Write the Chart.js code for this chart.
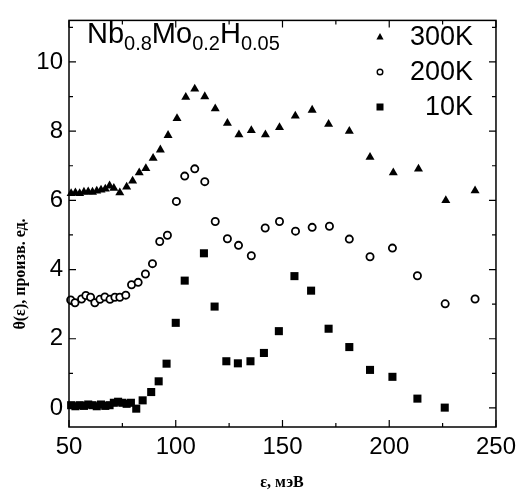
<!DOCTYPE html>
<html>
<head>
<meta charset="utf-8">
<script src="https://cdn.jsdelivr.net/npm/chart.js@4.4.0/dist/chart.umd.min.js"></script>
<style>
  body { margin: 0; background: #fff; }
  #wrap { width: 522px; height: 495px; position: relative; }
</style>
</head>
<body>
<div id="wrap"><canvas id="thetaChart"></canvas></div>
<script>
// energy (meV) and theta values
const seriesNames = ['300K', '200K', '10K'];

const x300 = [51, 53, 55, 57, 59, 61, 63, 65, 67, 69, 71, 73.8, 77, 79.8, 82.9, 86, 89.4, 92.8, 96.4, 100.6,
              104.7, 108.9, 113.6, 118.5, 124.2, 129.6, 135.4, 142, 148.6, 156, 163.9, 171.6, 181.3, 191,
              201.9, 213.7, 226.5, 240.2];
const y300 = [6.2, 6.22, 6.2, 6.24, 6.25, 6.24, 6.27, 6.3, 6.33, 6.42, 6.35, 6.22, 6.39, 6.56, 6.8, 6.92, 7.22,
              7.46, 7.88, 8.37, 8.98, 9.22, 9.0, 8.65, 8.23, 7.9, 8.02, 7.9, 8.11, 8.44, 8.61, 8.2, 8.0, 7.25,
              6.8, 6.91, 6.0, 6.28];

const x200 = [50.8, 52.8, 55.9, 57.9, 60.1, 62.1, 64.5, 66.8, 69.2, 71.5, 73.8, 76.6, 79.3, 82.4, 85.8, 89.1,
              92.5, 96.1, 100.3, 104.2, 108.9, 113.6, 118.5, 124.2, 129.4, 135.4, 141.9, 148.6, 156.1, 163.9,
              172, 181.3, 191, 201.5, 213.2, 226.2, 240.2];
const y200 = [3.12, 3.04, 3.15, 3.25, 3.2, 3.04, 3.14, 3.21, 3.14, 3.2, 3.2, 3.26, 3.56, 3.63, 3.87, 4.17, 4.81,
              4.99, 5.97, 6.7, 6.91, 6.54, 5.39, 4.89, 4.7, 4.4, 5.2, 5.39, 5.11, 5.22, 5.25, 4.88, 4.37, 4.62,
              3.82, 3.01, 3.15];

const x10 = [51, 53, 55, 57, 59, 61, 63, 65, 67, 69, 71, 73, 75, 77, 79, 81.5, 84.5, 88.5, 92, 95.7, 100, 104.2,
             113.2, 118.2, 123.7, 129.1, 135, 141.3, 148.3, 155.6, 163.4, 171.6, 181.3, 191, 201.5, 213.2, 226];
const y10 = [0.08, 0.05, 0.08, 0.06, 0.1, 0.08, 0.05, 0.1, 0.06, 0.08, 0.15, 0.18, 0.15, 0.12, 0.15, -0.02, 0.22,
             0.46, 0.77, 1.28, 2.46, 3.68, 4.47, 2.93, 1.35, 1.29, 1.35, 1.59, 2.22, 3.81, 3.39, 2.29, 1.76, 1.1,
             0.9, 0.27, 0.01];

const xTicks = [50, 100, 150, 200, 250];
const yTicks = [0, 2, 4, 6, 8, 10];
const xMinor = [75, 125, 175, 225];
const yMinor = [1, 3, 5, 7, 9, 11];

function pts(xs, ys) {
    return xs.map((x, i) => ({ x: x, y: ys[i] }));
}

// frame, inward ticks on all four sides, formula, legend and axis titles
const decorPlugin = {
    id: 'decor',
    afterDraw(chart) {
        const ctx = chart.ctx;
        const a = chart.chartArea;
        const xs = chart.scales.x, ys = chart.scales.y;
        ctx.save();
        ctx.strokeStyle = '#000';
        ctx.lineWidth = 1.5;
        ctx.strokeRect(a.left, a.top, a.right - a.left, a.bottom - a.top);

        ctx.lineWidth = 1.2;
        ctx.beginPath();
        xTicks.concat(xMinor).forEach(v => {
            const len = xTicks.includes(v) ? 7 : 4;
            const px = xs.getPixelForValue(v);
            ctx.moveTo(px, a.bottom); ctx.lineTo(px, a.bottom - len);
            ctx.moveTo(px, a.top); ctx.lineTo(px, a.top + len);
        });
        yTicks.concat(yMinor).forEach(v => {
            const len = yTicks.includes(v) ? 7 : 4;
            const py = ys.getPixelForValue(v);
            ctx.moveTo(a.left, py); ctx.lineTo(a.left + len, py);
            ctx.moveTo(a.right, py); ctx.lineTo(a.right - len, py);
        });
        ctx.stroke();

        // formula with subscripts
        ctx.fillStyle = '#000';
        ctx.textBaseline = 'alphabetic';
        ctx.textAlign = 'left';
        const parts = [['Nb', false], ['0.8', true], ['Mo', false], ['0.2', true], ['H', false], ['0.05', true]];
        let tx = 87;
        parts.forEach(p => {
            ctx.font = p[1] ? '20px "Liberation Sans", Arial' : '29px "Liberation Sans", Arial';
            ctx.fillText(p[0], tx, p[1] ? 50 : 43);
            tx += ctx.measureText(p[0]).width;
        });

        // legend
        const rows = [37, 72, 107];
        ctx.font = '27px "Liberation Sans", Arial';
        ctx.textAlign = 'right';
        ctx.textBaseline = 'middle';
        seriesNames.forEach((name, i) => {
            const mx = 380, my = rows[i];
            ctx.beginPath();
            if (i === 0) {
                ctx.moveTo(mx, my - 4); ctx.lineTo(mx + 3.6, my + 2.5); ctx.lineTo(mx - 3.6, my + 2.5);
                ctx.closePath(); ctx.fill();
            } else if (i === 1) {
                ctx.lineWidth = 1.4;
                ctx.arc(mx, my, 2.8, 0, Math.PI * 2); ctx.stroke();
            } else {
                ctx.fillRect(mx - 3.5, my - 3.5, 7, 7);
            }
            ctx.fillText(name, 473, my + 1);
        });

        // axis titles
        ctx.font = 'bold 16px "Liberation Serif", "Times New Roman", serif';
        ctx.textAlign = 'center';
        ctx.fillText('ε, мэВ', 282, 483);
        ctx.translate(21, 274);
        ctx.rotate(-Math.PI / 2);
        ctx.fillText('θ(ε), произв. ед.', 0, 0);
        ctx.restore();
    }
};

const ctx = document.getElementById('thetaChart').getContext('2d');
const myChart = new Chart(ctx, {
    type: 'scatter',
    data: {
        datasets: [{
                label: seriesNames[0],
                data: pts(x300, y300),
                pointStyle: 'triangle',
                pointRadius: 5.2,
                backgroundColor: '#000',
                borderColor: '#000',
                borderWidth: 0,
                clip: false
            },
            {
                label: seriesNames[1],
                data: pts(x200, y200),
                pointStyle: 'circle',
                pointRadius: 3.6,
                backgroundColor: '#fff',
                borderColor: '#000',
                borderWidth: 1.8,
                clip: false
            },
            {
                label: seriesNames[2],
                data: pts(x10, y10),
                pointStyle: 'rect',
                pointRadius: 5.7,
                backgroundColor: '#000',
                borderColor: '#000',
                borderWidth: 0,
                clip: false
            }
        ]
    },
    options: {
        responsive: true,
        maintainAspectRatio: false,
        animation: false,
        layout: { padding: { left: 0, top: 10, right: 25, bottom: 0 } },
        plugins: {
            legend: { display: false },
            tooltip: { enabled: false }
        },
        scales: {
            x: {
                type: 'linear',
                min: 50,
                max: 250,
                grid: { display: false, drawTicks: false },
                border: { display: false },
                afterBuildTicks: s => { s.ticks = xTicks.map(v => ({ value: v })); },
                afterFit: s => { s.height = 68; },
                ticks: {
                    color: '#000',
                    padding: 6,
                    maxRotation: 0,
                    font: { family: '"Liberation Sans", Arial', size: 24 }
                }
            },
            y: {
                type: 'linear',
                min: -0.55,
                max: 11.2,
                grid: { display: false, drawTicks: false },
                border: { display: false },
                afterBuildTicks: s => { s.ticks = yTicks.map(v => ({ value: v })); },
                afterFit: s => { s.width = 69; },
                ticks: {
                    color: '#000',
                    padding: 6,
                    font: { family: '"Liberation Sans", Arial', size: 24 }
                }
            }
        }
    },
    plugins: [decorPlugin]
});
</script>
</body>
</html>
